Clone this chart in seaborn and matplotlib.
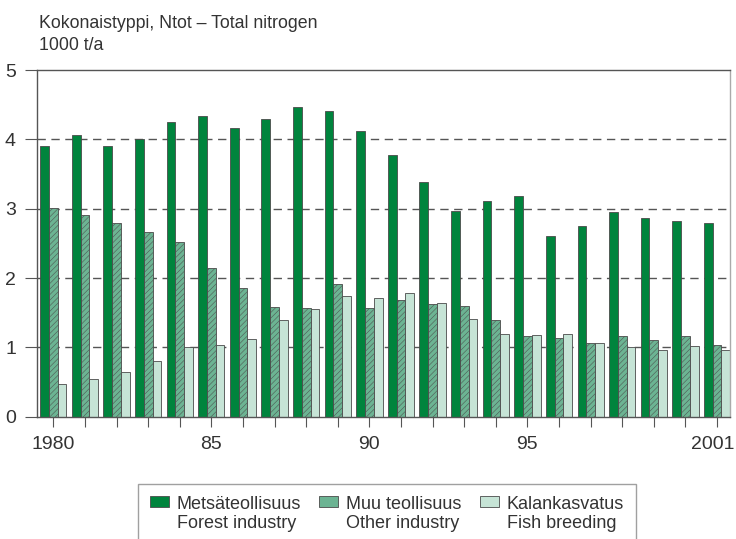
import matplotlib
matplotlib.use("Agg")
import matplotlib.pyplot as plt
from matplotlib.transforms import ScaledTranslation
import seaborn as sns
import pandas as pd
import numpy as np

# data (1000 t/a)
years = list(range(1980, 2002))
forest = [3.91, 4.07, 3.90, 4.00, 4.25, 4.34, 4.17, 4.30, 4.47, 4.41, 4.12,
          3.77, 3.39, 2.96, 3.11, 3.18, 2.61, 2.75, 2.95, 2.86, 2.82, 2.80]
other = [3.01, 2.91, 2.80, 2.66, 2.52, 2.14, 1.85, 1.58, 1.57, 1.92, 1.57,
         1.68, 1.63, 1.60, 1.40, 1.16, 1.14, 1.07, 1.17, 1.10, 1.17, 1.03]
fish = [0.47, 0.55, 0.65, 0.80, 1.00, 1.03, 1.12, 1.40, 1.55, 1.74, 1.71,
        1.78, 1.64, 1.41, 1.20, 1.18, 1.19, 1.06, 1.01, 0.96, 1.02, 0.96]
series = ["Metsäteollisuus", "Muu teollisuus", "Kalankasvatus"]
series_en = ["Forest industry", "Other industry", "Fish breeding"]
colors = ["#00843d", "#6cb493", "#c6e4d6"]
tick_labels = {1980: "1980", 1985: "85", 1990: "90", 1995: "95", 2001: "2001"}

df = pd.DataFrame({
    "year": years * 3,
    "value": forest + other + fish,
    "series": [s for s in series for _ in years],
})

sns.set_style("white")
plt.rcParams["font.family"] = ["Liberation Sans", "DejaVu Sans"]
plt.rcParams["hatch.color"] = "#559e7d"
plt.rcParams["hatch.linewidth"] = 0.35

fig = plt.figure(figsize=(7.36, 5.39), dpi=100)
ax = fig.add_axes([0.0499, 0.2269, 0.942, 0.6431])

sns.barplot(data=df, x="year", y="value", hue="series", hue_order=series,
            palette=colors, width=0.83, edgecolor="#4a4a4a", linewidth=0.6,
            saturation=1, ax=ax)

# fine screen texture on the middle series
for bar in ax.containers[1]:
    bar.set_hatch("//////")

ax.set_ylim(0, 5)
ax.set_xlim(-0.525, len(years) - 1 + 0.41)
ax.set_yticks([0, 1, 2, 3, 4, 5])
ax.set_yticklabels(["0", "1", "2", "3", "4", "5"])
ax.set_xticks(range(len(years)))
ax.set_xticklabels([tick_labels.get(y, "") for y in years])
ax.set_xlabel("")
ax.set_ylabel("")

for v in [1, 2, 3, 4]:
    ax.axhline(v, color="#555555", linestyle=(0, (6, 4)), linewidth=1.0, zorder=0)

for side in ["left", "bottom", "top"]:
    ax.spines[side].set_visible(True)
    ax.spines[side].set_color("#555555")
    ax.spines[side].set_linewidth(1.0)
ax.spines["right"].set_color("#aaaaaa")
ax.spines["right"].set_linewidth(1.0)

ax.tick_params(axis="x", direction="out", length=7, width=0.8, color="#555555",
               labelsize=14, labelcolor="#333333", pad=7, bottom=True)
ax.tick_params(axis="y", direction="out", length=9, width=0.8, color="#555555",
               labelsize=14, labelcolor="#333333", pad=6, left=True)

# keep "2001" inside the figure like the reference
last = ax.get_xticklabels()[-1]
last.set_transform(last.get_transform() + ScaledTranslation(-3 / 72, 0, fig.dpi_scale_trans))

fig.text(0.053, 0.948, "Kokonaistyppi, Ntot – Total nitrogen", fontsize=12.8,
         color="#333333", va="baseline")
fig.text(0.053, 0.907, "1000 t/a", fontsize=12.8, color="#333333", va="baseline")

handles, _ = ax.get_legend_handles_labels()
leg = ax.legend(handles, [f"{a}\n{b}" for a, b in zip(series, series_en)],
                ncol=3, loc="upper left", bbox_to_anchor=(0.1875, 0.102),
                bbox_transform=fig.transFigure, frameon=True, fancybox=False,
                edgecolor="#888888", fontsize=13, handlelength=1.05, handleheight=0.6,
                handletextpad=0.45, columnspacing=1.0, borderpad=0.65,
                borderaxespad=0, labelspacing=0.2, labelcolor="#333333")
leg.get_frame().set_linewidth(1.0)
for t in leg.get_texts():
    t.set_multialignment("left")
# square marker sits next to the Finnish (first) line
for col in leg._legend_handle_box.get_children():
    for row in col.get_children():
        row.align = "top"

fig.savefig("out.png", dpi=100)
